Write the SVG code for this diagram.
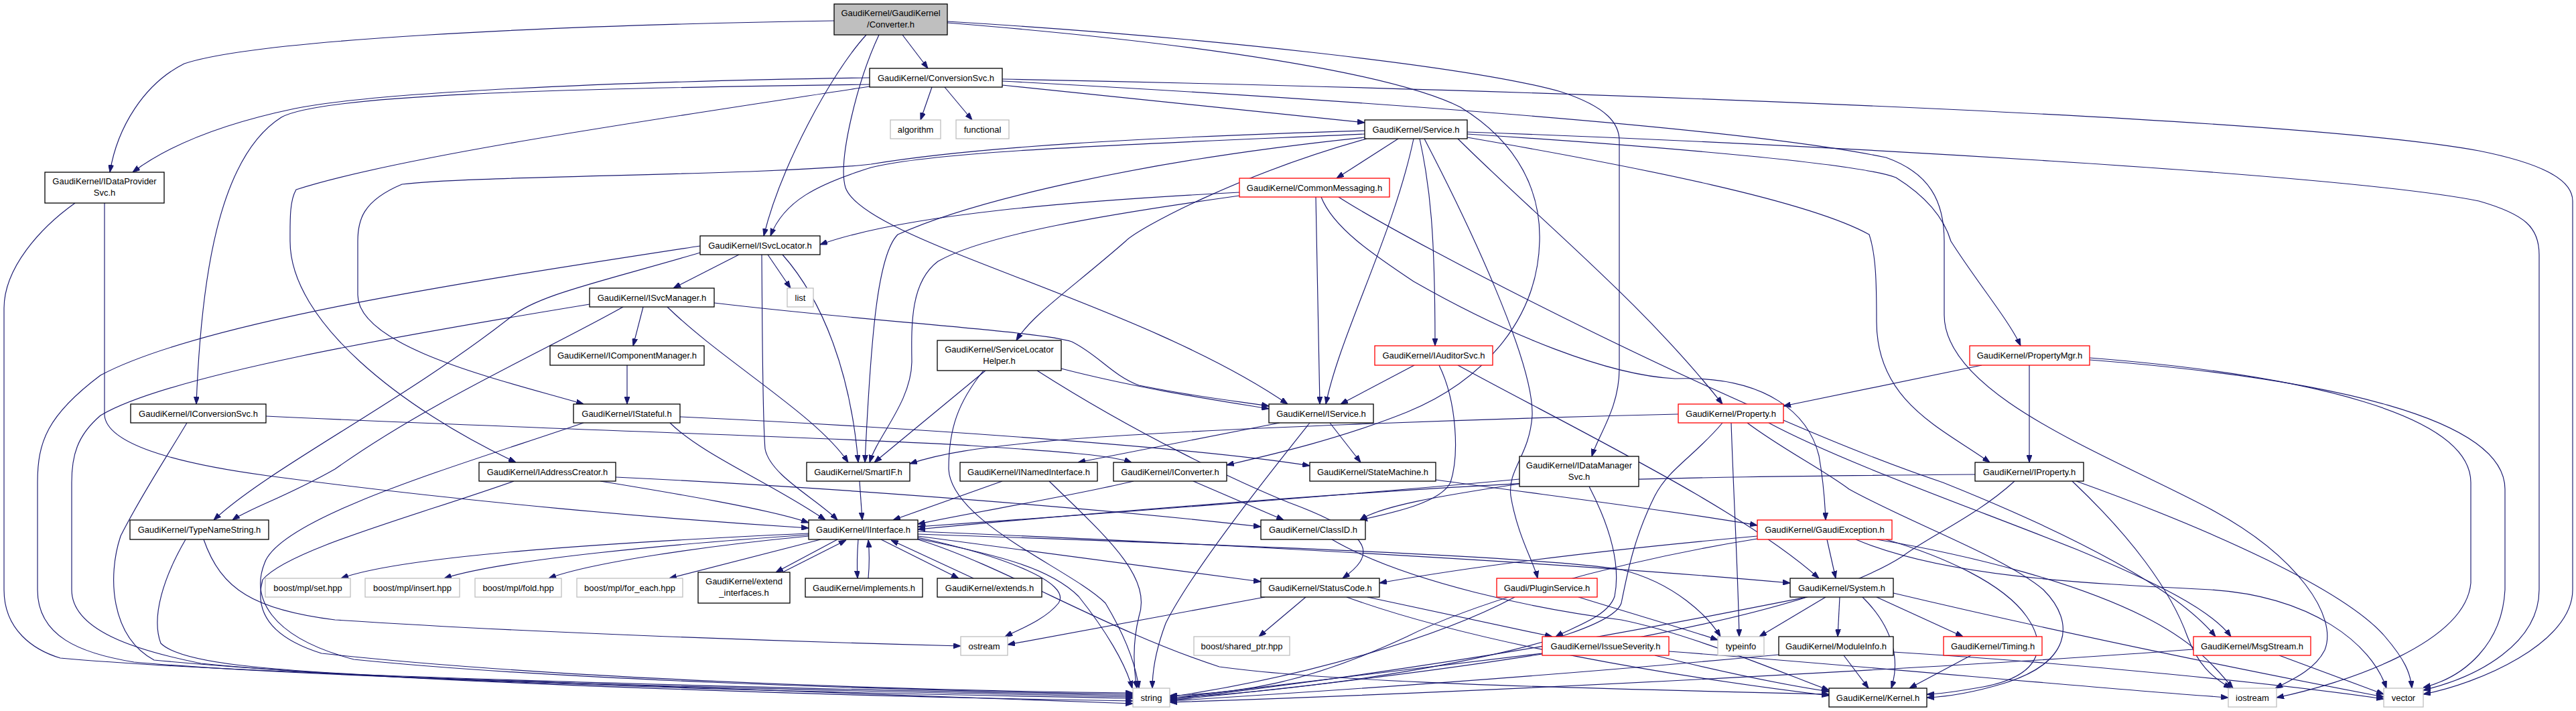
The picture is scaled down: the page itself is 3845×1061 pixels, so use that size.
<svg xmlns="http://www.w3.org/2000/svg" width="3845" height="1061" viewBox="0 0 3845 1061">
<style>
.e{fill:none;stroke:#191970;stroke-width:1.15;marker-end:url(#ah)}
.n rect{fill:#fff;stroke:#000;stroke-width:1.3}
.n.g rect{stroke:#bfbfbf}
.n.r rect{stroke:#ff0000}
.n.c rect{fill:#bfbfbf}
.n text{font-family:"Liberation Sans",Arial,Helvetica,sans-serif;font-size:13px;text-anchor:middle;fill:#000}
</style>
<defs>
<marker id="ah" viewBox="0 0 11 8" refX="11" refY="4" markerWidth="11" markerHeight="8" markerUnits="userSpaceOnUse" orient="auto"><path d="M0,0L11,4L0,8z" fill="#191970" stroke="#191970" stroke-width="1"/></marker>
</defs>
<rect width="3845" height="1061" fill="#fff"/>
<g id="edges">
<path class="e" d="M1245,31 C800,38 380,60 275,95 C215,125 175,190 164,257"/>
<path class="e" d="M1293,52 C1240,110 1165,250 1140,352"/>
<path class="e" d="M1312,52 C1280,120 1250,240 1262,280 C1290,360 1700,450 1922,603"/>
<path class="e" d="M1347,52 L1385,102"/>
<path class="e" d="M1414,32 C1800,55 2200,100 2330,137 C2400,160 2417,185 2417,210 L2417,550 C2417,610 2385,650 2376,681"/>
<path class="e" d="M1414,34 C1800,65 2080,110 2180,160 C2270,215 2300,290 2298,360 C2295,480 2210,570 2100,615 C2000,655 1900,678 1831,694"/>
<path class="e" d="M1391,130 L1374,179"/>
<path class="e" d="M1410,130 L1451,179"/>
<path class="e" d="M1298,116 C900,122 560,138 440,162 C330,185 250,218 198,257"/>
<path class="e" d="M1298,126 C820,132 480,142 420,175 C325,235 300,420 293,603"/>
<path class="e" d="M1298,129 C1000,175 600,232 442,283 C432,300 433,330 433,360 C433,480 600,610 770,690"/>
<path class="e" d="M1496,127 L2037,183"/>
<path class="e" d="M1496,118 C2200,132 3400,170 3700,225 C3800,245 3840,270 3840,300 L3840,880 C3840,960 3700,1020 3617,1036"/>
<path class="e" d="M1496,121 C2000,148 2600,190 2815,235 C2880,258 2902,300 2902,360 L2902,470 C2902,590 3150,680 3300,760 C3430,830 3490,920 3470,970 C3455,1000 3420,1015 3396,1027"/>
<path class="e" d="M2087,207 L1995,266"/>
<path class="e" d="M2037,200 C1700,215 1400,225 1300,250 C1220,275 1170,300 1150,352"/>
<path class="e" d="M2037,195 C1700,205 1450,220 1300,245 C1150,262 700,262 600,275 C540,300 534,330 534,360 L534,440 C534,520 760,570 871,603"/>
<path class="e" d="M2037,205 C1700,240 1450,300 1340,350 C1310,380 1300,500 1291,690"/>
<path class="e" d="M2040,207 C1850,260 1700,340 1680,360 C1600,430 1540,470 1517,508"/>
<path class="e" d="M2110,207 C2080,350 2000,500 1979,603"/>
<path class="e" d="M2119,207 C2135,280 2142,350 2142,516"/>
<path class="e" d="M2126,207 C2190,330 2290,540 2287,620 C2283,680 2250,700 2255,740 C2265,800 2290,840 2295,863"/>
<path class="e" d="M2176,207 C2300,330 2450,450 2571,603"/>
<path class="e" d="M2190,205 C2450,250 2700,300 2790,350 C2800,380 2801,420 2801,480 C2801,600 2900,640 2970,690"/>
<path class="e" d="M2190,200 C2500,220 2780,245 2830,265 C2870,290 2900,320 2912,360 C2950,420 3000,480 3016,516"/>
<path class="e" d="M2190,197 C2700,215 3500,260 3700,300 C3770,320 3790,340 3790,380 L3790,880 C3790,960 3700,1010 3617,1030"/>
<path class="e" d="M1850,287 C1600,300 1350,320 1224,365"/>
<path class="e" d="M1850,292 C1650,320 1470,350 1400,390 C1360,420 1360,480 1361,540 C1360,600 1310,650 1298,690"/>
<path class="e" d="M1964,294 C1966,400 1968,500 1970,603"/>
<path class="e" d="M1972,294 C1990,340 2050,380 2110,420 C2250,500 2400,560 2500,565 C2640,560 2700,620 2715,680 C2722,720 2724,750 2725,776"/>
<path class="e" d="M1998,294 C2100,360 2600,620 2900,720 C3100,800 3250,880 3307,950"/>
<path class="e" d="M156,303 L156,620 C160,660 250,690 400,710 C700,750 1000,775 1207,788"/>
<path class="e" d="M112,303 C60,340 6,400 6,460 L6,880 C6,940 50,970 90,982 C400,1010 1300,1030 1691,1038"/>
<path class="e" d="M1103,380 L1005,430"/>
<path class="e" d="M1146,380 L1180,430"/>
<path class="e" d="M1168,380 C1230,450 1270,560 1281,690"/>
<path class="e" d="M1137,380 C1138,500 1138,620 1142,670 C1150,710 1220,745 1250,776"/>
<path class="e" d="M1045,377 C900,420 800,440 760,475 C600,600 400,700 319,776"/>
<path class="e" d="M1045,367 C700,420 300,480 150,560 C70,620 56,660 56,720 L56,880 C56,950 120,975 200,988 C500,1015 1300,1032 1691,1040"/>
<path class="e" d="M960,458 L945,516"/>
<path class="e" d="M1066,452 C1300,480 1560,495 1600,510 C1640,530 1660,560 1700,575 C1800,595 1860,600 1894,606"/>
<path class="e" d="M996,458 C1080,540 1220,620 1266,690"/>
<path class="e" d="M930,458 C820,520 640,600 500,700 C430,740 370,760 347,776"/>
<path class="e" d="M880,454 C600,500 250,560 150,620 C115,650 107,680 107,720 L107,880 C107,940 200,970 300,990 C600,1020 1300,1035 1691,1042"/>
<path class="e" d="M936,545 L936,603"/>
<path class="e" d="M1584,550 C1700,580 1820,598 1894,610"/>
<path class="e" d="M1471,553 L1305,690"/>
<path class="e" d="M1548,553 C1700,650 1850,720 1924,750 C2060,800 2050,830 2004,863"/>
<path class="e" d="M1468,553 C1430,600 1416,640 1416,700 C1420,780 1600,850 1650,900 C1680,950 1695,990 1700,1027"/>
<path class="e" d="M2111,545 L2001,603"/>
<path class="e" d="M2176,545 C2350,640 2600,760 2715,863"/>
<path class="e" d="M2148,545 C2175,600 2178,680 2165,720 C2150,750 2080,765 2030,776"/>
<path class="e" d="M2958,545 L2662,606"/>
<path class="e" d="M3029,545 L3029,690"/>
<path class="e" d="M3119,534 C3450,560 3688,620 3688,720 L3688,870 C3680,960 3500,1020 3398,1041"/>
<path class="e" d="M3119,537 C3480,565 3739,625 3739,730 L3739,880 C3735,960 3680,1010 3617,1026"/>
<path class="e" d="M397,621 C800,640 1300,655 1450,665 C1600,675 1660,680 1689,690"/>
<path class="e" d="M279,631 C250,680 210,740 180,800 C160,860 165,950 230,985 C600,1020 1300,1040 1691,1046"/>
<path class="e" d="M1000,631 C1050,680 1150,720 1232,776"/>
<path class="e" d="M1015,622 C1400,640 1800,670 1955,695"/>
<path class="e" d="M871,631 C700,690 420,770 395,840 C375,890 400,950 528,984 C800,1012 1300,1030 1691,1036"/>
<path class="e" d="M1910,631 L1609,690"/>
<path class="e" d="M1985,631 L2031,690"/>
<path class="e" d="M1955,631 C1900,700 1780,850 1740,930 C1725,970 1720,1000 1720,1027"/>
<path class="e" d="M2505,618 C2200,625 1800,640 1600,655 C1450,668 1400,678 1358,692"/>
<path class="e" d="M2571,631 C2530,680 2490,700 2470,740 C2440,800 2430,850 2420,900 C2400,960 2000,1030 1746,1041"/>
<path class="e" d="M2584,631 C2588,750 2594,850 2596,950"/>
<path class="e" d="M2608,631 C2660,670 2720,700 2760,730 C2850,780 2990,830 3050,880 C3100,930 3090,990 2990,1020 C2940,1035 2900,1040 2876,1041"/>
<path class="e" d="M2640,631 C2750,690 2950,760 3100,820 C3220,870 3300,910 3330,950"/>
<path class="e" d="M896,718 C1000,735 1150,760 1207,780"/>
<path class="e" d="M919,712 C1300,730 1700,765 1882,786"/>
<path class="e" d="M767,718 C620,770 430,820 392,865 C380,910 400,950 480,975 C800,1010 1300,1030 1691,1034"/>
<path class="e" d="M1283,718 L1287,776"/>
<path class="e" d="M1496,718 L1333,776"/>
<path class="e" d="M1566,718 C1650,800 1720,860 1700,920 C1690,960 1692,1000 1697,1027"/>
<path class="e" d="M1692,718 C1600,740 1450,765 1370,782"/>
<path class="e" d="M1781,718 L1916,776"/>
<path class="e" d="M2143,716 C2300,738 2520,765 2623,784"/>
<path class="e" d="M2268,715 C2000,740 1600,770 1370,786"/>
<path class="e" d="M2268,722 C2150,740 2060,755 2030,776"/>
<path class="e" d="M2372,726 C2400,780 2420,840 2410,890 C2400,920 2350,935 2322,950"/>
<path class="e" d="M2948,708 C2700,710 2500,712 2300,720 C2000,735 1600,768 1370,790"/>
<path class="e" d="M3007,718 C2950,770 2880,800 2840,830 C2700,920 2300,990 1746,1045"/>
<path class="e" d="M3093,718 C3180,800 3240,880 3265,950 C3280,990 3300,1010 3330,1027"/>
<path class="e" d="M3099,718 C3300,790 3500,880 3560,950 C3590,985 3598,1005 3600,1027"/>
<path class="e" d="M277,805 C245,860 225,920 240,960 C270,990 400,1000 600,1010 C1000,1025 1400,1040 1691,1050"/>
<path class="e" d="M304,805 C330,880 380,910 500,925 C800,945 1200,958 1434,964"/>
<path class="e" d="M1207,796 C900,810 600,830 509,863"/>
<path class="e" d="M1207,798 C1000,812 750,835 663,863"/>
<path class="e" d="M1207,800 C1050,815 880,840 819,863"/>
<path class="e" d="M1225,805 L999,863"/>
<path class="e" d="M1250,805 L1158,854"/>
<path class="e" d="M1168,854 L1263,806"/>
<path class="e" d="M1281,805 C1279,830 1279,845 1280,863"/>
<path class="e" d="M1296,863 C1298,840 1298,825 1296,806"/>
<path class="e" d="M1315,805 L1431,863"/>
<path class="e" d="M1453,863 L1330,806"/>
<path class="e" d="M1370,802 C1500,830 1600,870 1580,900 C1560,925 1520,940 1500,950"/>
<path class="e" d="M1370,804 C1500,830 1570,850 1610,890 C1650,940 1680,990 1690,1027"/>
<path class="e" d="M1370,800 L1882,868"/>
<path class="e" d="M1370,793 C1900,815 2400,845 2672,870"/>
<path class="e" d="M1370,797 C1800,812 2300,830 2420,850 C2500,870 2550,920 2568,950"/>
<path class="e" d="M1370,805 C1500,845 1650,940 1820,995 C2000,1020 2400,1028 2730,1036"/>
<path class="e" d="M1988,805 C2100,870 2300,910 2420,925 C2520,945 2650,1000 2730,1030"/>
<path class="e" d="M2623,800 C2400,820 2200,845 2059,870"/>
<path class="e" d="M2727,805 L2740,863"/>
<path class="e" d="M2623,804 C2400,840 2200,900 2100,950 C1950,1020 1850,1035 1746,1038"/>
<path class="e" d="M2801,805 C2950,830 3100,870 3200,920 C3280,960 3310,1000 3333,1027"/>
<path class="e" d="M2815,805 C2900,830 2990,870 3025,920 C3060,970 3040,1010 2960,1025 C2920,1032 2895,1036 2876,1036"/>
<path class="e" d="M2770,805 C2900,860 3100,870 3300,880 C3450,890 3540,960 3562,1027"/>
<path class="e" d="M1888,891 L1504,962"/>
<path class="e" d="M1949,891 L1879,950"/>
<path class="e" d="M2041,891 L2317,950"/>
<path class="e" d="M2010,891 C2200,960 2500,1010 2730,1038"/>
<path class="e" d="M2261,891 C2150,950 1950,1010 1746,1040"/>
<path class="e" d="M2356,891 C2450,920 2520,940 2564,955"/>
<path class="e" d="M2725,891 L2626,950"/>
<path class="e" d="M2746,891 L2743,950"/>
<path class="e" d="M2780,891 C2830,940 2835,990 2823,1027"/>
<path class="e" d="M2801,891 L2930,950"/>
<path class="e" d="M2697,891 C2500,930 2200,990 1746,1044"/>
<path class="e" d="M2826,885 C3100,950 3400,1010 3558,1040"/>
<path class="e" d="M2302,975 C2100,1000 1900,1025 1746,1042"/>
<path class="e" d="M2470,978 C2560,1000 2650,1020 2730,1032"/>
<path class="e" d="M2491,972 C2800,995 3100,1025 3326,1041"/>
<path class="e" d="M2655,977 C2300,1010 2000,1030 1746,1046"/>
<path class="e" d="M2752,978 L2789,1027"/>
<path class="e" d="M2826,973 C3100,990 3400,1020 3558,1043"/>
<path class="e" d="M2942,978 L2850,1027"/>
<path class="e" d="M3274,969 C3000,990 2300,1030 1746,1048"/>
<path class="e" d="M3402,978 L3558,1036"/>
</g>
<g id="n0" class="n c"><rect x="1245" y="6" width="169" height="46"/><text x="1329.5" y="24">GaudiKernel/GaudiKernel</text><text x="1329.5" y="41">/Converter.h</text></g>
<g id="n1" class="n"><rect x="1298" y="102" width="198" height="28"/><text x="1397" y="121">GaudiKernel/ConversionSvc.h</text></g>
<g id="n2" class="n g"><rect x="1329" y="179" width="75" height="28"/><text x="1366.5" y="198">algorithm</text></g>
<g id="n3" class="n g"><rect x="1427" y="179" width="79" height="28"/><text x="1466.5" y="198">functional</text></g>
<g id="n4" class="n"><rect x="2037" y="179" width="153" height="28"/><text x="2113.5" y="198">GaudiKernel/Service.h</text></g>
<g id="n5" class="n"><rect x="67" y="257" width="178" height="46"/><text x="156" y="275">GaudiKernel/IDataProvider</text><text x="156" y="292">Svc.h</text></g>
<g id="n6" class="n r"><rect x="1850" y="266" width="224" height="28"/><text x="1962" y="285">GaudiKernel/CommonMessaging.h</text></g>
<g id="n7" class="n"><rect x="1045" y="352" width="179" height="28"/><text x="1134.5" y="371">GaudiKernel/ISvcLocator.h</text></g>
<g id="n8" class="n"><rect x="880" y="430" width="186" height="28"/><text x="973" y="449">GaudiKernel/ISvcManager.h</text></g>
<g id="n9" class="n g"><rect x="1175" y="430" width="39" height="28"/><text x="1194.5" y="449">list</text></g>
<g id="n10" class="n"><rect x="821" y="516" width="230" height="29"/><text x="936" y="535">GaudiKernel/IComponentManager.h</text></g>
<g id="n11" class="n"><rect x="1399" y="508" width="185" height="45"/><text x="1491.5" y="526">GaudiKernel/ServiceLocator</text><text x="1491.5" y="543">Helper.h</text></g>
<g id="n12" class="n r"><rect x="2052" y="516" width="176" height="29"/><text x="2140" y="535">GaudiKernel/IAuditorSvc.h</text></g>
<g id="n13" class="n r"><rect x="2940" y="516" width="179" height="29"/><text x="3029.5" y="535">GaudiKernel/PropertyMgr.h</text></g>
<g id="n14" class="n"><rect x="195" y="603" width="202" height="28"/><text x="296" y="622">GaudiKernel/IConversionSvc.h</text></g>
<g id="n15" class="n"><rect x="856" y="603" width="159" height="28"/><text x="935.5" y="622">GaudiKernel/IStateful.h</text></g>
<g id="n16" class="n"><rect x="1894" y="603" width="156" height="28"/><text x="1972" y="622">GaudiKernel/IService.h</text></g>
<g id="n17" class="n r"><rect x="2505" y="603" width="157" height="28"/><text x="2583.5" y="622">GaudiKernel/Property.h</text></g>
<g id="n18" class="n"><rect x="715" y="690" width="204" height="28"/><text x="817" y="709">GaudiKernel/IAddressCreator.h</text></g>
<g id="n19" class="n"><rect x="1204" y="690" width="154" height="28"/><text x="1281" y="709">GaudiKernel/SmartIF.h</text></g>
<g id="n20" class="n"><rect x="1433" y="690" width="205" height="28"/><text x="1535.5" y="709">GaudiKernel/INamedInterface.h</text></g>
<g id="n21" class="n"><rect x="1662" y="690" width="169" height="28"/><text x="1746.5" y="709">GaudiKernel/IConverter.h</text></g>
<g id="n22" class="n"><rect x="1955" y="690" width="188" height="28"/><text x="2049" y="709">GaudiKernel/StateMachine.h</text></g>
<g id="n23" class="n"><rect x="2268" y="681" width="178" height="45"/><text x="2357" y="699">GaudiKernel/IDataManager</text><text x="2357" y="716">Svc.h</text></g>
<g id="n24" class="n"><rect x="2948" y="690" width="162" height="28"/><text x="3029" y="709">GaudiKernel/IProperty.h</text></g>
<g id="n25" class="n"><rect x="194" y="776" width="207" height="29"/><text x="297.5" y="795">GaudiKernel/TypeNameString.h</text></g>
<g id="n26" class="n"><rect x="1207" y="776" width="163" height="29"/><text x="1288.5" y="795">GaudiKernel/IInterface.h</text></g>
<g id="n27" class="n"><rect x="1882" y="776" width="156" height="29"/><text x="1960" y="795">GaudiKernel/ClassID.h</text></g>
<g id="n28" class="n r"><rect x="2623" y="776" width="201" height="29"/><text x="2723.5" y="795">GaudiKernel/GaudiException.h</text></g>
<g id="n29" class="n g"><rect x="396" y="863" width="127" height="28"/><text x="459.5" y="882">boost/mpl/set.hpp</text></g>
<g id="n30" class="n g"><rect x="545" y="863" width="141" height="28"/><text x="615.5" y="882">boost/mpl/insert.hpp</text></g>
<g id="n31" class="n g"><rect x="709" y="863" width="129" height="28"/><text x="773.5" y="882">boost/mpl/fold.hpp</text></g>
<g id="n32" class="n g"><rect x="861" y="863" width="158" height="28"/><text x="940" y="882">boost/mpl/for_each.hpp</text></g>
<g id="n33" class="n"><rect x="1042" y="854" width="137" height="46"/><text x="1110.5" y="872">GaudiKernel/extend</text><text x="1110.5" y="889">_interfaces.h</text></g>
<g id="n34" class="n"><rect x="1202" y="863" width="175" height="28"/><text x="1289.5" y="882">GaudiKernel/implements.h</text></g>
<g id="n35" class="n"><rect x="1399" y="863" width="156" height="28"/><text x="1477" y="882">GaudiKernel/extends.h</text></g>
<g id="n36" class="n"><rect x="1882" y="863" width="177" height="28"/><text x="1970.5" y="882">GaudiKernel/StatusCode.h</text></g>
<g id="n37" class="n r"><rect x="2234" y="863" width="150" height="28"/><text x="2309" y="882">Gaudi/PluginService.h</text></g>
<g id="n38" class="n"><rect x="2672" y="863" width="154" height="28"/><text x="2749" y="882">GaudiKernel/System.h</text></g>
<g id="n39" class="n g"><rect x="1434" y="950" width="70" height="28"/><text x="1469" y="969">ostream</text></g>
<g id="n40" class="n g"><rect x="1782" y="950" width="143" height="28"/><text x="1853.5" y="969">boost/shared_ptr.hpp</text></g>
<g id="n41" class="n r"><rect x="2302" y="950" width="189" height="28"/><text x="2396.5" y="969">GaudiKernel/IssueSeverity.h</text></g>
<g id="n42" class="n g"><rect x="2564" y="950" width="69" height="28"/><text x="2598.5" y="969">typeinfo</text></g>
<g id="n43" class="n"><rect x="2655" y="950" width="171" height="28"/><text x="2740.5" y="969">GaudiKernel/ModuleInfo.h</text></g>
<g id="n44" class="n r"><rect x="2901" y="950" width="147" height="28"/><text x="2974.5" y="969">GaudiKernel/Timing.h</text></g>
<g id="n45" class="n r"><rect x="3274" y="950" width="175" height="28"/><text x="3361.5" y="969">GaudiKernel/MsgStream.h</text></g>
<g id="n46" class="n g"><rect x="1691" y="1027" width="55" height="28"/><text x="1718.5" y="1046">string</text></g>
<g id="n47" class="n"><rect x="2730" y="1027" width="146" height="28"/><text x="2803" y="1046">GaudiKernel/Kernel.h</text></g>
<g id="n48" class="n g"><rect x="3326" y="1027" width="72" height="28"/><text x="3362" y="1046">iostream</text></g>
<g id="n49" class="n g"><rect x="3558" y="1027" width="59" height="28"/><text x="3587.5" y="1046">vector</text></g>
</svg>
